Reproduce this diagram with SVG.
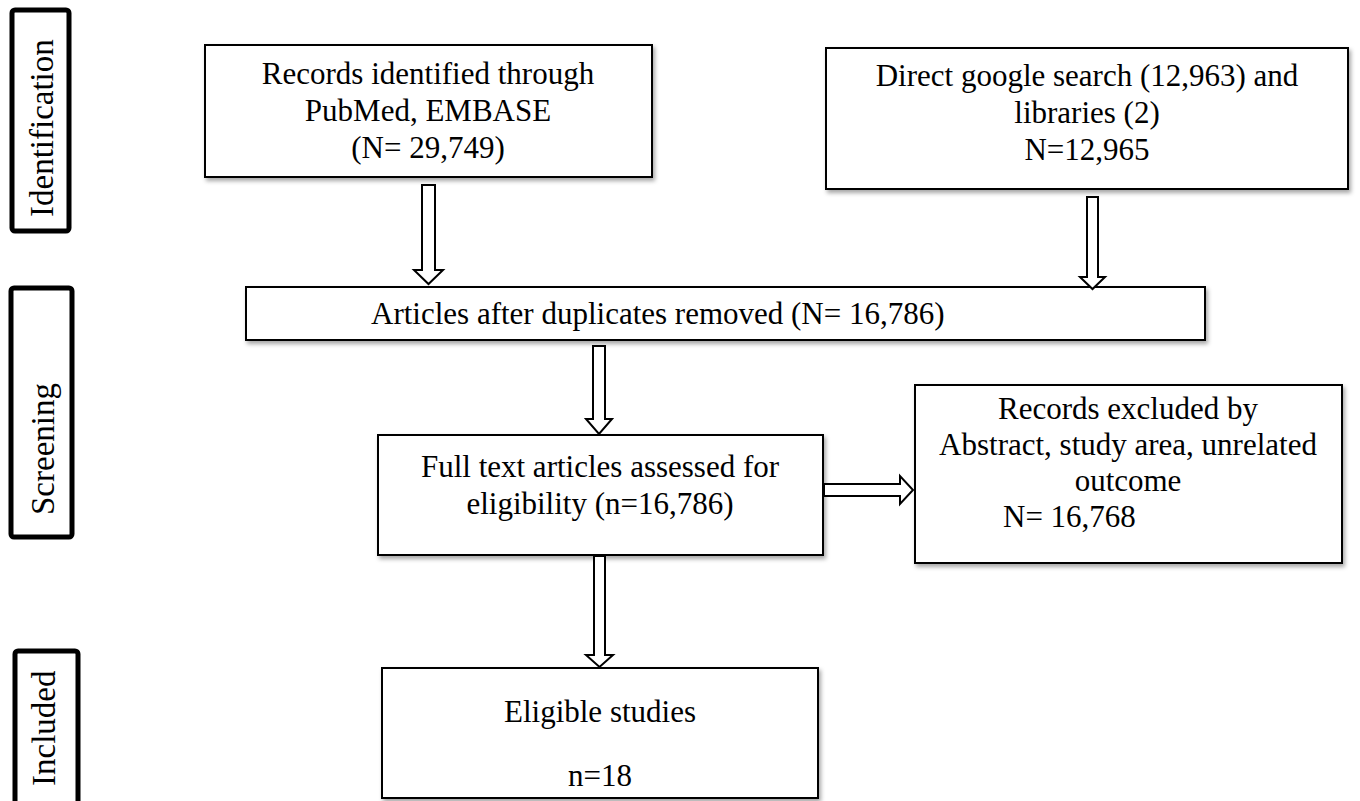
<svg xmlns="http://www.w3.org/2000/svg" width="1360" height="801" viewBox="0 0 1360 801">
  <defs>
    <filter id="sh" x="-5%" y="-10%" width="115%" height="130%">
      <feDropShadow dx="2" dy="3" stdDeviation="2" flood-color="#000" flood-opacity="0.35"/>
    </filter>
  </defs>
  <style>
    .box { fill: #fff; stroke: #000; stroke-width: 2; filter: url(#sh); }
    .lab { fill: #fff; stroke: #000; stroke-width: 5; }
    .t { font-family: "Liberation Serif", "Times New Roman", serif; font-size: 31px; fill: #000; }
    .c { text-anchor: middle; }
    .lt { font-family: "Liberation Serif", "Times New Roman", serif; font-size: 33px; fill: #000; text-anchor: start; }
    .arr { fill: #fff; stroke: #000; stroke-width: 2; stroke-linejoin: miter; }
  </style>
  <rect width="1360" height="801" fill="#fff"/>

  <g id="label-identification">
    <rect class="lab" x="12" y="10" width="57" height="221" rx="3"/>
    <text class="lt" transform="translate(53,217) rotate(-90)">Identification</text>
  </g>
  <g id="label-screening">
    <rect class="lab" x="11" y="288" width="61" height="249" rx="3"/>
    <text class="lt" transform="translate(54,515) rotate(-90)">Screening</text>
  </g>
  <g id="label-included">
    <rect class="lab" x="15" y="651" width="63" height="170" rx="3"/>
    <text class="lt" transform="translate(55,786) rotate(-90)">Included</text>
  </g>

  <g id="node-records">
    <rect class="box" x="205" y="45" width="447" height="132"/>
    <text class="t c" x="428" y="84">Records identified through</text>
    <text class="t c" x="428" y="121">PubMed, EMBASE</text>
    <text class="t c" x="428" y="158">(N= 29,749)</text>
  </g>
  <g id="node-google">
    <rect class="box" x="826" y="48" width="522" height="141"/>
    <text class="t c" x="1087" y="86">Direct google search (12,963) and</text>
    <text class="t c" x="1087" y="123">libraries (2)</text>
    <text class="t c" x="1087" y="160">N=12,965</text>
  </g>
  <g id="node-duplicates">
    <rect class="box" x="246" y="287" width="959" height="53"/>
    <text class="t" x="371" y="324">Articles after duplicates removed (N= 16,786)</text>
  </g>
  <g id="node-fulltext">
    <rect class="box" x="378" y="435" width="445" height="120"/>
    <text class="t c" x="600" y="477">Full text articles assessed for</text>
    <text class="t c" x="600" y="514">eligibility (n=16,786)</text>
  </g>
  <g id="node-excluded">
    <rect class="box" x="915" y="385" width="427" height="178"/>
    <text class="t c" x="1128" y="419">Records excluded by</text>
    <text class="t c" x="1128" y="455">Abstract, study area, unrelated</text>
    <text class="t c" x="1128" y="491">outcome</text>
    <text class="t" x="1003" y="527">N= 16,768</text>
  </g>
  <g id="node-eligible">
    <rect class="box" x="382" y="668" width="436" height="130"/>
    <text class="t c" x="600" y="722">Eligible studies</text>
    <text class="t c" x="600" y="786">n=18</text>
  </g>

  <g id="connectors">
    <polygon class="arr" points="422,185 435,185 435,270 443,270 428.5,284 414,270 422,270"/>
    <polygon class="arr" points="1087,197 1098,197 1098,277 1105,277 1092.5,289 1080,277 1087,277"/>
    <polygon class="arr" points="593,346 605,346 605,419 612,419 599,434 586,419 593,419"/>
    <polygon class="arr" points="824,484 900,484 900,476 913,490 900,504 900,496 824,496"/>
    <polygon class="arr" points="594,556 605,556 605,655 613,655 599.5,667 586,655 594,655"/>
  </g>
</svg>
